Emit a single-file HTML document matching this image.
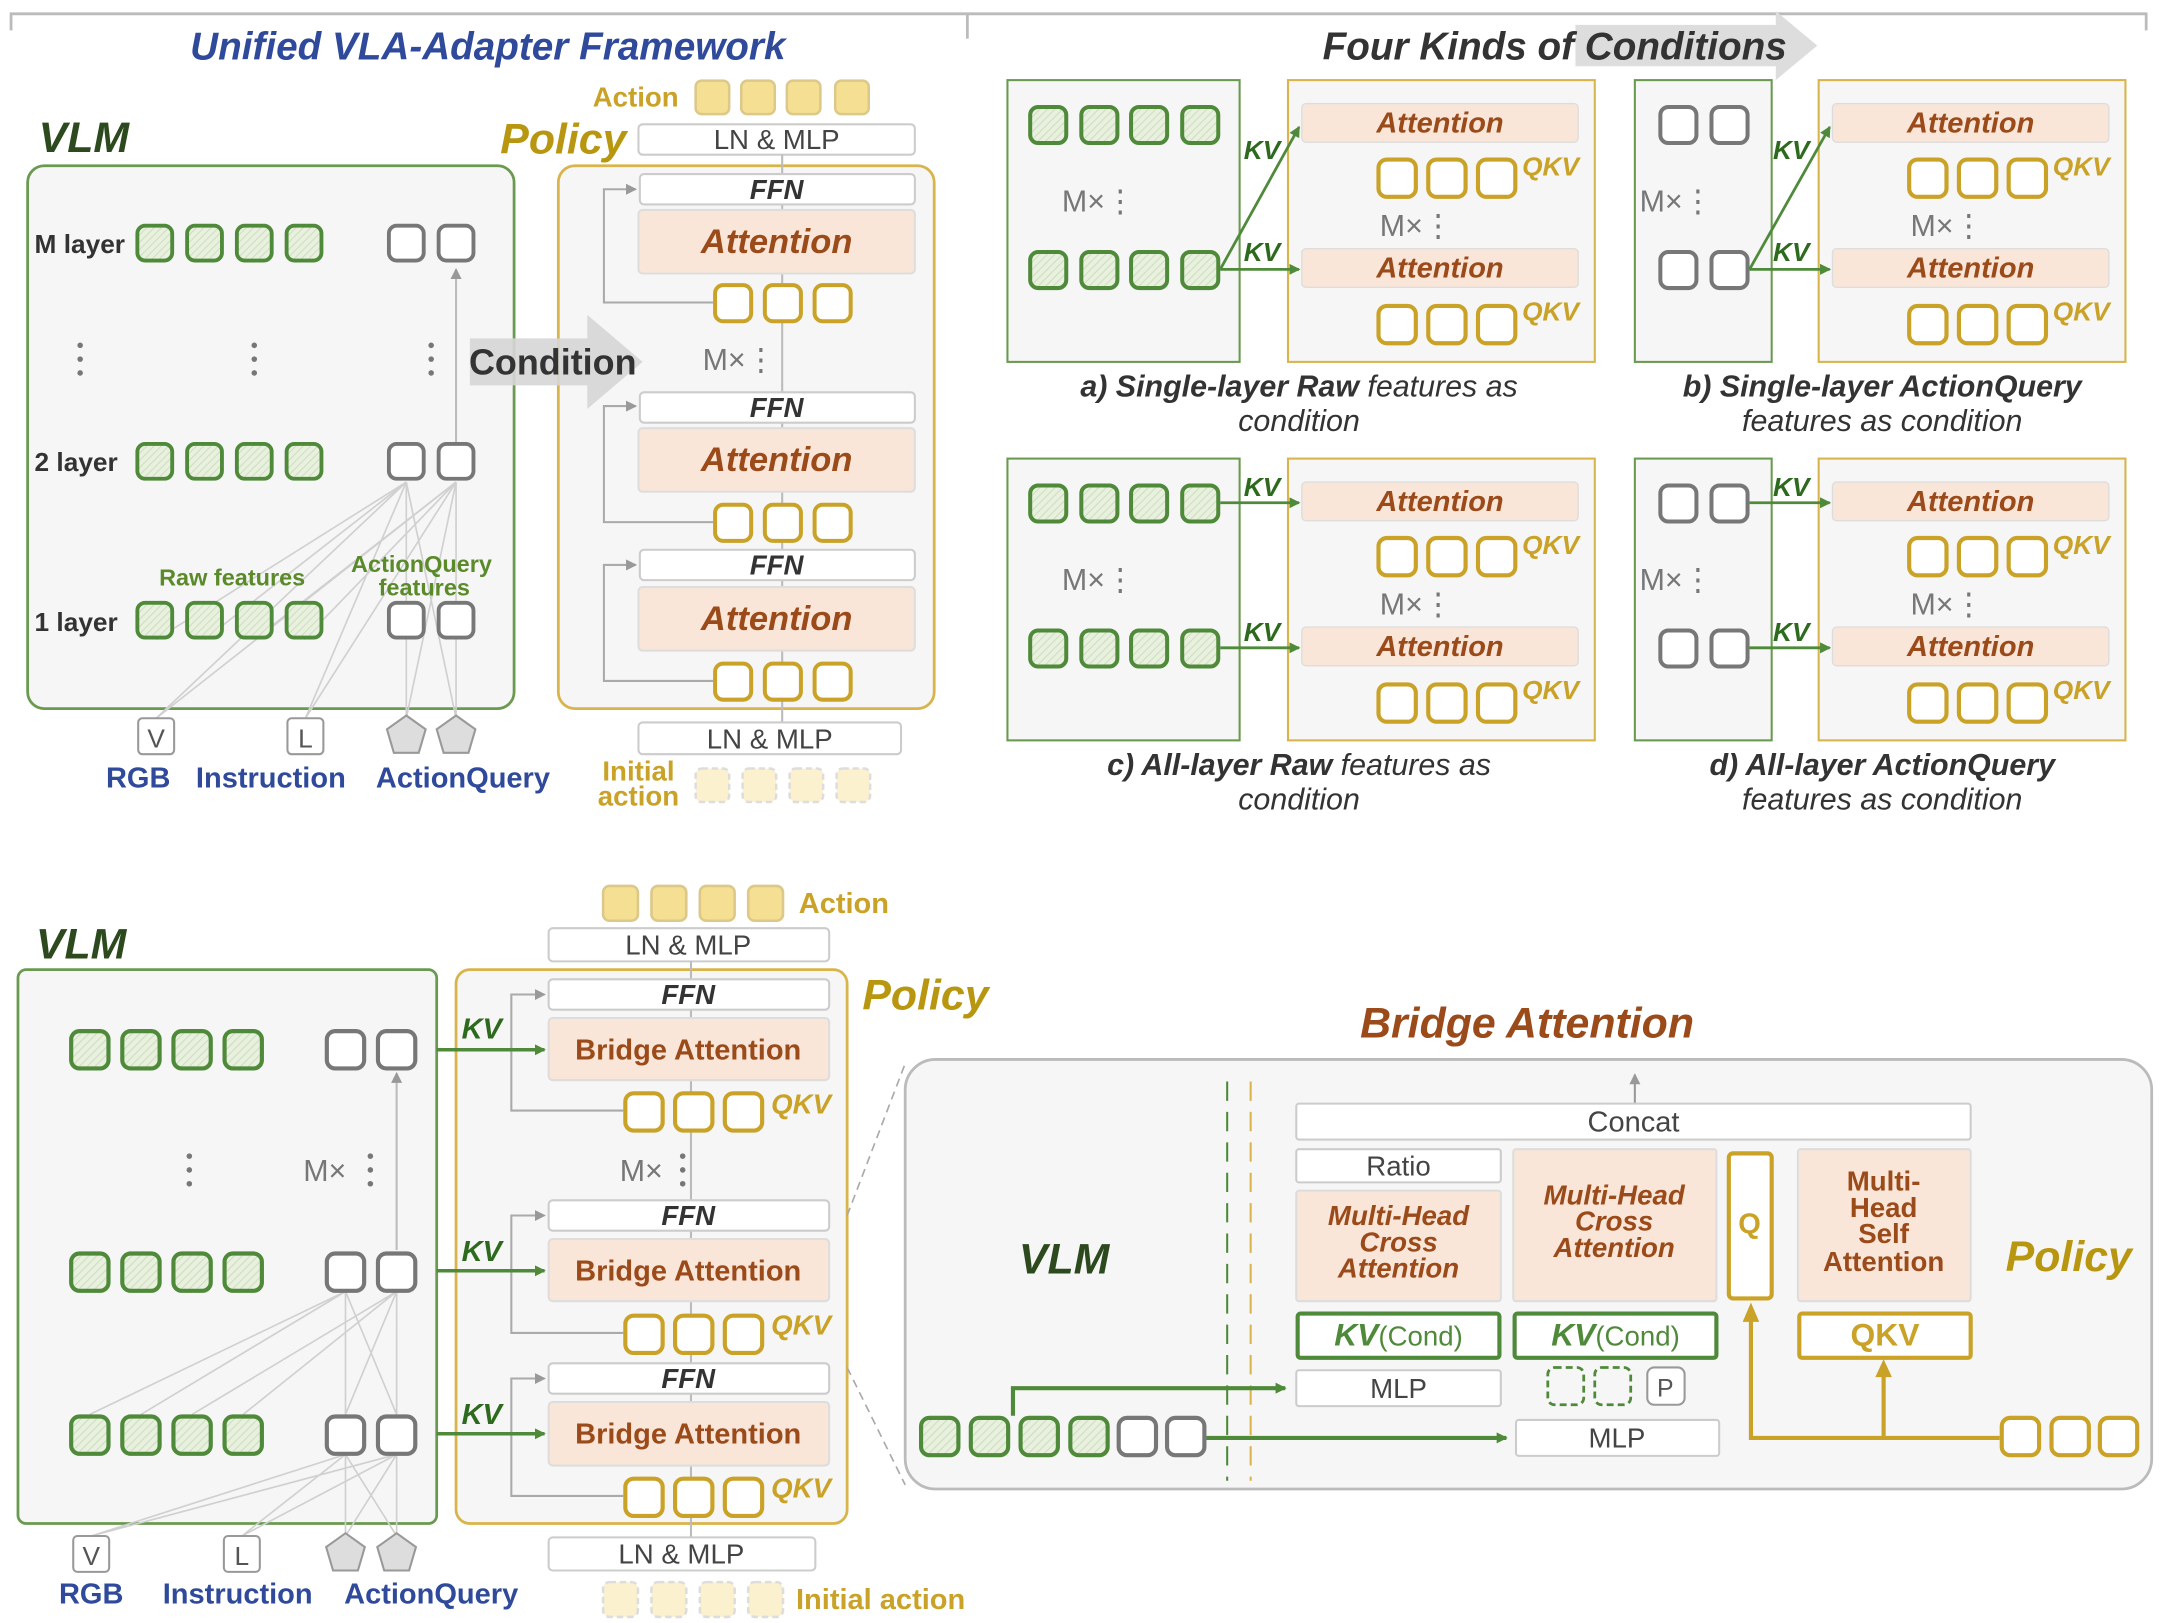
<!DOCTYPE html>
<html><head><meta charset="utf-8"><style>
html,body{margin:0;padding:0;background:#fff}
svg{display:block}
text{font-family:"Liberation Sans",sans-serif}
.t{font-weight:bold;font-style:italic}
</style></head><body>
<svg width="2160" height="1623" viewBox="0 0 1563 1175" preserveAspectRatio="none" xmlns="http://www.w3.org/2000/svg">
<defs>
<pattern id="h" width="4" height="4" patternUnits="userSpaceOnUse" patternTransform="rotate(45)"><rect width="4" height="4" fill="#e8f0de"/><line x1="0" y1="0" x2="0" y2="4" stroke="#cfdcc0" stroke-width="1.5"/></pattern>
<symbol id="g" viewBox="0 0 30 30" overflow="visible"><rect x="1.5" y="1.5" width="27" height="27" rx="6" fill="url(#h)" stroke="#4f8a3a" stroke-width="3"/></symbol>
<symbol id="w" viewBox="0 0 30 30" overflow="visible"><rect x="1.5" y="1.5" width="27" height="27" rx="6" fill="#fff" stroke="#777" stroke-width="3"/></symbol>
<symbol id="y" viewBox="0 0 30 30" overflow="visible"><rect x="1.5" y="1.5" width="27" height="27" rx="6" fill="#fff" stroke="#c9a227" stroke-width="3"/></symbol>
<symbol id="a" viewBox="0 0 30 30" overflow="visible"><rect x="1.5" y="1.5" width="27" height="27" rx="5" fill="#f4df92" stroke="#dcc989" stroke-width="2"/></symbol>
<symbol id="ad" viewBox="0 0 30 30" overflow="visible"><rect x="1.5" y="1.5" width="27" height="27" rx="5" fill="#fbf1cf" stroke="#ddd" stroke-width="2" stroke-dasharray="5,3"/></symbol>
<marker id="mg" markerWidth="8" markerHeight="8" refX="7" refY="4" orient="auto" markerUnits="userSpaceOnUse"><path d="M0,0L8,4L0,8z" fill="#4f8a3a"/></marker>
<marker id="mr" markerWidth="8" markerHeight="8" refX="7" refY="4" orient="auto" markerUnits="userSpaceOnUse"><path d="M0,0L8,4L0,8z" fill="#999"/></marker>
</defs>

<!-- top lines -->
<path d="M8,22V10H700V28M700,10H1553V22" fill="none" stroke="#bbb" stroke-width="2"/>
<text x="353" y="43" class="t" font-size="28" fill="#2f4a9a" text-anchor="middle">Unified VLA-Adapter Framework</text>
<path d="M1140,18H1285V8L1315,33L1285,58V48H1140z" fill="#ddd"/>
<text x="1125" y="43" class="t" font-size="28" fill="#333" text-anchor="middle">Four Kinds of Conditions</text>

<!-- ============ TOP LEFT ============ -->
<text x="28" y="110" class="t" font-size="31" fill="#2d4a1e">VLM</text>
<rect x="20" y="120" width="352" height="393" rx="12" fill="#f6f6f6" stroke="#6a9a50" stroke-width="2"/>
<g stroke="#d0d0d0" stroke-width="1.2">
<path d="M113,520L294,349M113,520L330,349M221,520L294,349M221,520L330,349M294,520L294,349M294,520L330,349M330,520L294,349M330,520L330,349"/>
<path d="M113,463L294,349M148,463L294,349M184,463L330,349M220,463L330,349"/>
</g>
<line x1="330" y1="320" x2="330" y2="195" stroke="#bbb" stroke-width="1.5" marker-end="url(#mr)"/>
<g font-size="19" fill="#333" font-weight="bold"><text x="25" y="183">M layer</text><text x="25" y="341">2 layer</text><text x="25" y="457">1 layer</text></g>
<use href="#g" x="98" y="162" width="28" height="28"/><use href="#g" x="134" y="162" width="28" height="28"/><use href="#g" x="170" y="162" width="28" height="28"/><use href="#g" x="206" y="162" width="28" height="28"/>
<use href="#w" x="280" y="162" width="28" height="28"/><use href="#w" x="316" y="162" width="28" height="28"/>
<use href="#g" x="98" y="320" width="28" height="28"/><use href="#g" x="134" y="320" width="28" height="28"/><use href="#g" x="170" y="320" width="28" height="28"/><use href="#g" x="206" y="320" width="28" height="28"/>
<use href="#w" x="280" y="320" width="28" height="28"/><use href="#w" x="316" y="320" width="28" height="28"/>
<use href="#g" x="98" y="435" width="28" height="28"/><use href="#g" x="134" y="435" width="28" height="28"/><use href="#g" x="170" y="435" width="28" height="28"/><use href="#g" x="206" y="435" width="28" height="28"/>
<use href="#w" x="280" y="435" width="28" height="28"/><use href="#w" x="316" y="435" width="28" height="28"/>
<g fill="#777"><circle cx="58" cy="250" r="2"/><circle cx="58" cy="260" r="2"/><circle cx="58" cy="270" r="2"/><circle cx="184" cy="250" r="2"/><circle cx="184" cy="260" r="2"/><circle cx="184" cy="270" r="2"/><circle cx="312" cy="250" r="2"/><circle cx="312" cy="260" r="2"/><circle cx="312" cy="270" r="2"/></g>
<g font-size="17" fill="#5a8a2a" font-weight="bold" text-anchor="middle"><text x="168" y="424">Raw features</text><text x="305" y="414">ActionQuery</text><text x="307" y="431">features</text></g>
<rect x="100" y="520" width="26" height="26" rx="3" fill="#fff" stroke="#999" stroke-width="1.5"/><text x="113" y="541" font-size="19" fill="#555" text-anchor="middle">V</text>
<rect x="208" y="520" width="26" height="26" rx="3" fill="#fff" stroke="#999" stroke-width="1.5"/><text x="221" y="541" font-size="19" fill="#555" text-anchor="middle">L</text>
<path d="M294,518L308,528L303,545H285L280,528z" fill="#ddd" stroke="#999" stroke-width="1.5"/>
<path d="M330,518L344,528L339,545H321L316,528z" fill="#ddd" stroke="#999" stroke-width="1.5"/>
<g font-size="21" fill="#2f4a9a" font-weight="bold" text-anchor="middle"><text x="100" y="570">RGB</text><text x="196" y="570">Instruction</text><text x="335" y="570">ActionQuery</text></g>

<!-- top policy -->
<text x="362" y="111" class="t" font-size="31" fill="#b8960f">Policy</text>
<text x="460" y="77" font-size="20" font-weight="bold" fill="#c9a227" text-anchor="middle">Action</text>
<use href="#a" x="502" y="57" width="27" height="27"/><use href="#a" x="535" y="57" width="27" height="27"/><use href="#a" x="568" y="57" width="27" height="27"/><use href="#a" x="603" y="57" width="27" height="27"/>
<rect x="462" y="90" width="200" height="22" rx="3" fill="#fff" stroke="#ccc" stroke-width="1.5"/><text x="562" y="108" font-size="20" fill="#444" text-anchor="middle">LN &amp; MLP</text>
<rect x="404" y="120" width="272" height="393" rx="12" fill="#f6f6f6" stroke="#d8b44a" stroke-width="2"/>
<line x1="566" y1="112" x2="566" y2="523" stroke="#bbb" stroke-width="1.5"/>
<g fill="none" stroke="#aaa" stroke-width="1.5"><path d="M516,219H437V137H460" marker-end="url(#mr)"/><path d="M516,378H437V294H460" marker-end="url(#mr)"/><path d="M516,493H437V409H460" marker-end="url(#mr)"/></g>
<g>
<rect x="463" y="126" width="199" height="22" rx="3" fill="#fff" stroke="#ccc" stroke-width="1.5"/><text x="562" y="144" class="t" font-size="20" fill="#333" text-anchor="middle">FFN</text>
<rect x="462" y="152" width="200" height="46" rx="3" fill="#f9e6d8" stroke="#ddd" stroke-width="1.5"/><text x="562" y="183" class="t" font-size="25" fill="#9b4a1a" text-anchor="middle">Attention</text>
<use href="#y" x="516" y="205" width="29" height="29"/><use href="#y" x="552" y="205" width="29" height="29"/><use href="#y" x="588" y="205" width="29" height="29"/>
<rect x="463" y="284" width="199" height="22" rx="3" fill="#fff" stroke="#ccc" stroke-width="1.5"/><text x="562" y="302" class="t" font-size="20" fill="#333" text-anchor="middle">FFN</text>
<rect x="462" y="310" width="200" height="46" rx="3" fill="#f9e6d8" stroke="#ddd" stroke-width="1.5"/><text x="562" y="341" class="t" font-size="25" fill="#9b4a1a" text-anchor="middle">Attention</text>
<use href="#y" x="516" y="364" width="29" height="29"/><use href="#y" x="552" y="364" width="29" height="29"/><use href="#y" x="588" y="364" width="29" height="29"/>
<rect x="463" y="398" width="199" height="22" rx="3" fill="#fff" stroke="#ccc" stroke-width="1.5"/><text x="562" y="416" class="t" font-size="20" fill="#333" text-anchor="middle">FFN</text>
<rect x="462" y="425" width="200" height="46" rx="3" fill="#f9e6d8" stroke="#ddd" stroke-width="1.5"/><text x="562" y="456" class="t" font-size="25" fill="#9b4a1a" text-anchor="middle">Attention</text>
<use href="#y" x="516" y="479" width="29" height="29"/><use href="#y" x="552" y="479" width="29" height="29"/><use href="#y" x="588" y="479" width="29" height="29"/>
</g>
<text x="535" y="268" font-size="22" fill="#777" text-anchor="middle">M×⋮</text>
<rect x="462" y="523" width="190" height="23" rx="3" fill="#fff" stroke="#ccc" stroke-width="1.5"/><text x="557" y="542" font-size="20" fill="#444" text-anchor="middle">LN &amp; MLP</text>
<g font-size="20" font-weight="bold" fill="#c9a227" text-anchor="middle"><text x="462" y="565">Initial</text><text x="462" y="583">action</text></g>
<use href="#ad" x="502" y="555" width="27" height="27"/><use href="#ad" x="536" y="555" width="27" height="27"/><use href="#ad" x="570" y="555" width="27" height="27"/><use href="#ad" x="604" y="555" width="27" height="27"/>

<!-- condition arrow on top -->
<path d="M340,245H425V228L465,262L425,296V279H340z" fill="#d6d6d6" fill-opacity="0.9"/>
<text x="400" y="271" font-size="26" font-weight="bold" fill="#333" text-anchor="middle">Condition</text>

<!-- ============ FOUR PANELS ============ -->
<g id="pa">
<rect x="932" y="58" width="222" height="204" fill="#f6f6f6" stroke="#d8b44a" stroke-width="1.5"/>
<rect x="942" y="75" width="200" height="28" rx="3" fill="#f9e6d8" stroke="#ddd"/><text x="1042" y="96" class="t" font-size="21" fill="#9b4a1a" text-anchor="middle">Attention</text>
<use href="#y" x="996" y="114" width="30" height="30"/><use href="#y" x="1032" y="114" width="30" height="30"/><use href="#y" x="1068" y="114" width="30" height="30"/>
<text x="1122" y="127" class="t" font-size="19" fill="#c9a227" text-anchor="middle">QKV</text>
<text x="1025" y="171" font-size="22" fill="#777" text-anchor="middle">M×⋮</text>
<rect x="942" y="180" width="200" height="28" rx="3" fill="#f9e6d8" stroke="#ddd"/><text x="1042" y="201" class="t" font-size="21" fill="#9b4a1a" text-anchor="middle">Attention</text>
<use href="#y" x="996" y="220" width="30" height="30"/><use href="#y" x="1032" y="220" width="30" height="30"/><use href="#y" x="1068" y="220" width="30" height="30"/>
<text x="1122" y="232" class="t" font-size="19" fill="#c9a227" text-anchor="middle">QKV</text>
</g>
<rect x="729" y="58" width="168" height="204" fill="#f6f6f6" stroke="#6a9a50" stroke-width="1.5"/>
<use href="#g" x="744" y="76" width="29" height="29"/><use href="#g" x="781" y="76" width="29" height="29"/><use href="#g" x="817" y="76" width="29" height="29"/><use href="#g" x="854" y="76" width="29" height="29"/>
<use href="#g" x="744" y="181" width="29" height="29"/><use href="#g" x="781" y="181" width="29" height="29"/><use href="#g" x="817" y="181" width="29" height="29"/><use href="#g" x="854" y="181" width="29" height="29"/>
<text x="795" y="153" font-size="22" fill="#777" text-anchor="middle">M×⋮</text>
<g stroke="#4f8a3a" stroke-width="2" fill="none"><path d="M883,195L940,92" marker-end="url(#mg)"/><path d="M883,195H940" marker-end="url(#mg)"/></g>
<g class="t" font-size="19" fill="#2d6a1e"><text x="900" y="115">KV</text><text x="900" y="189">KV</text></g>
<g class="t" font-size="22" fill="#333" text-anchor="middle"><text x="940" y="287">a) Single-layer Raw <tspan font-weight="normal">features as</tspan></text><text x="940" y="312" font-weight="normal">condition</text></g>

<use href="#pa" transform="translate(384,0)"/>
<rect x="1183" y="58" width="99" height="204" fill="#f6f6f6" stroke="#6a9a50" stroke-width="1.5"/>
<use href="#w" x="1200" y="76" width="29" height="29"/><use href="#w" x="1237" y="76" width="29" height="29"/>
<use href="#w" x="1200" y="181" width="29" height="29"/><use href="#w" x="1237" y="181" width="29" height="29"/>
<text x="1213" y="153" font-size="22" fill="#777" text-anchor="middle">M×⋮</text>
<g stroke="#4f8a3a" stroke-width="2" fill="none"><path d="M1266,195L1324,92" marker-end="url(#mg)"/><path d="M1266,195H1324" marker-end="url(#mg)"/></g>
<g class="t" font-size="19" fill="#2d6a1e"><text x="1283" y="115">KV</text><text x="1283" y="189">KV</text></g>
<g class="t" font-size="22" fill="#333" text-anchor="middle"><text x="1362" y="287">b) Single-layer ActionQuery</text><text x="1362" y="312" font-weight="normal">features as condition</text></g>

<use href="#pa" transform="translate(0,274)"/>
<rect x="729" y="332" width="168" height="204" fill="#f6f6f6" stroke="#6a9a50" stroke-width="1.5"/>
<use href="#g" x="744" y="350" width="29" height="29"/><use href="#g" x="781" y="350" width="29" height="29"/><use href="#g" x="817" y="350" width="29" height="29"/><use href="#g" x="854" y="350" width="29" height="29"/>
<use href="#g" x="744" y="455" width="29" height="29"/><use href="#g" x="781" y="455" width="29" height="29"/><use href="#g" x="817" y="455" width="29" height="29"/><use href="#g" x="854" y="455" width="29" height="29"/>
<text x="795" y="427" font-size="22" fill="#777" text-anchor="middle">M×⋮</text>
<g stroke="#4f8a3a" stroke-width="2" fill="none"><path d="M883,364H940" marker-end="url(#mg)"/><path d="M883,469H940" marker-end="url(#mg)"/></g>
<g class="t" font-size="19" fill="#2d6a1e"><text x="900" y="359">KV</text><text x="900" y="464">KV</text></g>
<g class="t" font-size="22" fill="#333" text-anchor="middle"><text x="940" y="561">c) All-layer Raw <tspan font-weight="normal">features as</tspan></text><text x="940" y="586" font-weight="normal">condition</text></g>

<use href="#pa" transform="translate(384,274)"/>
<rect x="1183" y="332" width="99" height="204" fill="#f6f6f6" stroke="#6a9a50" stroke-width="1.5"/>
<use href="#w" x="1200" y="350" width="29" height="29"/><use href="#w" x="1237" y="350" width="29" height="29"/>
<use href="#w" x="1200" y="455" width="29" height="29"/><use href="#w" x="1237" y="455" width="29" height="29"/>
<text x="1213" y="427" font-size="22" fill="#777" text-anchor="middle">M×⋮</text>
<g stroke="#4f8a3a" stroke-width="2" fill="none"><path d="M1266,364H1324" marker-end="url(#mg)"/><path d="M1266,469H1324" marker-end="url(#mg)"/></g>
<g class="t" font-size="19" fill="#2d6a1e"><text x="1283" y="359">KV</text><text x="1283" y="464">KV</text></g>
<g class="t" font-size="22" fill="#333" text-anchor="middle"><text x="1362" y="561">d) All-layer ActionQuery</text><text x="1362" y="586" font-weight="normal">features as condition</text></g>

<!-- ============ BOTTOM LEFT ============ -->
<text x="26" y="694" class="t" font-size="31" fill="#2d4a1e">VLM</text>
<use href="#a" x="435" y="640" width="28" height="28"/><use href="#a" x="470" y="640" width="28" height="28"/><use href="#a" x="505" y="640" width="28" height="28"/><use href="#a" x="540" y="640" width="28" height="28"/>
<text x="578" y="661" font-size="21" font-weight="bold" fill="#c9a227">Action</text>
<rect x="397" y="672" width="203" height="24" rx="3" fill="#fff" stroke="#ccc" stroke-width="1.5"/><text x="498" y="691" font-size="20" fill="#444" text-anchor="middle">LN &amp; MLP</text>
<rect x="13" y="702" width="303" height="401" rx="6" fill="#f6f6f6" stroke="#6a9a50" stroke-width="2"/>
<g stroke="#d0d0d0" stroke-width="1.2">
<path d="M66,1112L250,1053M66,1112L287,1053M175,1112L250,1053M175,1112L287,1053M250,1112L250,1053M250,1112L287,1053M287,1112L250,1053M287,1112L287,1053"/>
<path d="M65,1024L250,935M102,1024L250,935M139,1024L287,935M176,1024L287,935M250,1024L250,935M250,1024L287,935M287,1024L250,935M287,1024L287,935"/>
</g>
<line x1="287" y1="905" x2="287" y2="777" stroke="#bbb" stroke-width="1.5" marker-end="url(#mr)"/>
<g>
<use href="#g" x="50" y="745" width="30" height="30"/><use href="#g" x="87" y="745" width="30" height="30"/><use href="#g" x="124" y="745" width="30" height="30"/><use href="#g" x="161" y="745" width="30" height="30"/>
<use href="#w" x="235" y="745" width="30" height="30"/><use href="#w" x="272" y="745" width="30" height="30"/>
<use href="#g" x="50" y="906" width="30" height="30"/><use href="#g" x="87" y="906" width="30" height="30"/><use href="#g" x="124" y="906" width="30" height="30"/><use href="#g" x="161" y="906" width="30" height="30"/>
<use href="#w" x="235" y="906" width="30" height="30"/><use href="#w" x="272" y="906" width="30" height="30"/>
<use href="#g" x="50" y="1024" width="30" height="30"/><use href="#g" x="87" y="1024" width="30" height="30"/><use href="#g" x="124" y="1024" width="30" height="30"/><use href="#g" x="161" y="1024" width="30" height="30"/>
<use href="#w" x="235" y="1024" width="30" height="30"/><use href="#w" x="272" y="1024" width="30" height="30"/>
</g>
<g fill="#777"><circle cx="137" cy="837" r="2"/><circle cx="137" cy="847" r="2"/><circle cx="137" cy="857" r="2"/><circle cx="268" cy="837" r="2"/><circle cx="268" cy="847" r="2"/><circle cx="268" cy="857" r="2"/></g>
<text x="235" y="855" font-size="22" fill="#777" text-anchor="middle">M×</text>
<rect x="53" y="1112" width="26" height="26" rx="3" fill="#fff" stroke="#999" stroke-width="1.5"/><text x="66" y="1133" font-size="19" fill="#555" text-anchor="middle">V</text>
<rect x="162" y="1112" width="26" height="26" rx="3" fill="#fff" stroke="#999" stroke-width="1.5"/><text x="175" y="1133" font-size="19" fill="#555" text-anchor="middle">L</text>
<path d="M250,1110L264,1120L259,1137H241L236,1120z" fill="#ddd" stroke="#999" stroke-width="1.5"/>
<path d="M287,1110L301,1120L296,1137H278L273,1120z" fill="#ddd" stroke="#999" stroke-width="1.5"/>
<g font-size="21" fill="#2f4a9a" font-weight="bold" text-anchor="middle"><text x="66" y="1161">RGB</text><text x="172" y="1161">Instruction</text><text x="312" y="1161">ActionQuery</text></g>

<rect x="330" y="702" width="283" height="401" rx="10" fill="#f6f6f6" stroke="#d8b44a" stroke-width="2"/>
<text x="624" y="731" class="t" font-size="31" fill="#b8960f">Policy</text>
<line x1="500" y1="696" x2="500" y2="1113" stroke="#bbb" stroke-width="1.5"/>
<g fill="none" stroke="#aaa" stroke-width="1.5"><path d="M451,804H370V720H394" marker-end="url(#mr)"/><path d="M451,965H370V880H394" marker-end="url(#mr)"/><path d="M451,1083H370V998H394" marker-end="url(#mr)"/></g>
<g>
<rect x="397" y="709" width="203" height="22" rx="3" fill="#fff" stroke="#ccc" stroke-width="1.5"/><text x="498" y="727" class="t" font-size="20" fill="#333" text-anchor="middle">FFN</text>
<rect x="397" y="737" width="203" height="45" rx="3" fill="#f9e6d8" stroke="#ddd" stroke-width="1.5"/><text x="498" y="767" font-size="21" font-weight="bold" fill="#9b4a1a" text-anchor="middle">Bridge Attention</text>
<use href="#y" x="451" y="790" width="30" height="30"/><use href="#y" x="487" y="790" width="30" height="30"/><use href="#y" x="523" y="790" width="30" height="30"/>
<text x="558" y="806" class="t" font-size="20" fill="#c9a227">QKV</text>
<rect x="397" y="869" width="203" height="22" rx="3" fill="#fff" stroke="#ccc" stroke-width="1.5"/><text x="498" y="887" class="t" font-size="20" fill="#333" text-anchor="middle">FFN</text>
<rect x="397" y="897" width="203" height="45" rx="3" fill="#f9e6d8" stroke="#ddd" stroke-width="1.5"/><text x="498" y="927" font-size="21" font-weight="bold" fill="#9b4a1a" text-anchor="middle">Bridge Attention</text>
<use href="#y" x="451" y="951" width="30" height="30"/><use href="#y" x="487" y="951" width="30" height="30"/><use href="#y" x="523" y="951" width="30" height="30"/>
<text x="558" y="966" class="t" font-size="20" fill="#c9a227">QKV</text>
<rect x="397" y="987" width="203" height="22" rx="3" fill="#fff" stroke="#ccc" stroke-width="1.5"/><text x="498" y="1005" class="t" font-size="20" fill="#333" text-anchor="middle">FFN</text>
<rect x="397" y="1015" width="203" height="46" rx="3" fill="#f9e6d8" stroke="#ddd" stroke-width="1.5"/><text x="498" y="1045" font-size="21" font-weight="bold" fill="#9b4a1a" text-anchor="middle">Bridge Attention</text>
<use href="#y" x="451" y="1069" width="30" height="30"/><use href="#y" x="487" y="1069" width="30" height="30"/><use href="#y" x="523" y="1069" width="30" height="30"/>
<text x="558" y="1084" class="t" font-size="20" fill="#c9a227">QKV</text>
</g>
<text x="464" y="855" font-size="22" fill="#777" text-anchor="middle">M×</text>
<g fill="#777"><circle cx="494" cy="837" r="2"/><circle cx="494" cy="847" r="2"/><circle cx="494" cy="857" r="2"/></g>
<g stroke="#4f8a3a" stroke-width="2.5" fill="none"><path d="M316,760H394" marker-end="url(#mg)"/><path d="M316,920H394" marker-end="url(#mg)"/><path d="M316,1038H394" marker-end="url(#mg)"/></g>
<g class="t" font-size="21" fill="#2d6a1e"><text x="334" y="752">KV</text><text x="334" y="913">KV</text><text x="334" y="1031">KV</text></g>
<rect x="397" y="1113" width="193" height="24" rx="3" fill="#fff" stroke="#ccc" stroke-width="1.5"/><text x="493" y="1132" font-size="20" fill="#444" text-anchor="middle">LN &amp; MLP</text>
<use href="#ad" x="435" y="1144" width="28" height="28"/><use href="#ad" x="470" y="1144" width="28" height="28"/><use href="#ad" x="505" y="1144" width="28" height="28"/><use href="#ad" x="540" y="1144" width="28" height="28"/>
<text x="576" y="1165" font-size="21" font-weight="bold" fill="#c9a227">Initial action</text>
<g stroke="#aaa" stroke-width="1.2" stroke-dasharray="6,4"><line x1="613" y1="880" x2="655" y2="770"/><line x1="613" y1="990" x2="655" y2="1075"/></g>

<!-- ============ BRIDGE ATTENTION ============ -->
<text x="1105" y="751" class="t" font-size="31" fill="#9b4a1a" text-anchor="middle">Bridge Attention</text>
<rect x="655" y="767" width="902" height="311" rx="22" fill="#f6f6f6" stroke="#bbb" stroke-width="2"/>
<text x="770" y="922" class="t" font-size="31" fill="#2d4a1e" text-anchor="middle">VLM</text>
<text x="1497" y="920" class="t" font-size="31" fill="#b8960f" text-anchor="middle">Policy</text>
<line x1="888" y1="783" x2="888" y2="1072" stroke="#4f8a3a" stroke-width="1.5" stroke-dasharray="14,8"/>
<line x1="905" y1="783" x2="905" y2="1072" stroke="#d8b44a" stroke-width="1.5" stroke-dasharray="14,8"/>
<line x1="1183" y1="799" x2="1183" y2="778" stroke="#999" stroke-width="1.5" marker-end="url(#mr)"/>
<rect x="938" y="799" width="488" height="26" rx="2" fill="#fff" stroke="#ccc" stroke-width="1.5"/><text x="1182" y="819" font-size="21" fill="#444" text-anchor="middle">Concat</text>
<rect x="938" y="832" width="148" height="24" rx="2" fill="#fff" stroke="#ccc" stroke-width="1.5"/><text x="1012" y="851" font-size="20" fill="#444" text-anchor="middle">Ratio</text>
<rect x="938" y="862" width="148" height="80" rx="2" fill="#f9e6d8" stroke="#ddd" stroke-width="1.5"/>
<g class="t" font-size="20" fill="#9b4a1a" text-anchor="middle"><text x="1012" y="887">Multi-Head</text><text x="1012" y="906">Cross</text><text x="1012" y="925">Attention</text></g>
<rect x="1095" y="832" width="147" height="110" rx="2" fill="#f9e6d8" stroke="#ddd" stroke-width="1.5"/>
<g class="t" font-size="20" fill="#9b4a1a" text-anchor="middle"><text x="1168" y="872">Multi-Head</text><text x="1168" y="891">Cross</text><text x="1168" y="910">Attention</text></g>
<rect x="1251" y="835" width="31" height="105" rx="3" fill="#fff" stroke="#c9a227" stroke-width="3"/><text x="1266" y="893" font-size="21" font-weight="bold" fill="#c9a227" text-anchor="middle">Q</text>
<rect x="1301" y="832" width="125" height="110" rx="2" fill="#f9e6d8" stroke="#ddd" stroke-width="1.5"/>
<g font-size="20" font-weight="bold" fill="#9b4a1a" text-anchor="middle"><text x="1363" y="862">Multi-</text><text x="1363" y="881">Head</text><text x="1363" y="900">Self</text><text x="1363" y="920">Attention</text></g>
<rect x="939" y="951" width="146" height="32" rx="2" fill="#fff" stroke="#4f8a3a" stroke-width="3"/>
<text x="1012" y="974" text-anchor="middle" fill="#4f8a3a"><tspan class="t" font-size="23">KV</tspan><tspan font-size="20">(Cond)</tspan></text>
<rect x="1096" y="951" width="146" height="32" rx="2" fill="#fff" stroke="#4f8a3a" stroke-width="3"/>
<text x="1169" y="974" text-anchor="middle" fill="#4f8a3a"><tspan class="t" font-size="23">KV</tspan><tspan font-size="20">(Cond)</tspan></text>
<rect x="1302" y="951" width="124" height="32" rx="2" fill="#fff" stroke="#c9a227" stroke-width="3"/><text x="1364" y="974" font-size="23" font-weight="bold" fill="#c9a227" text-anchor="middle">QKV</text>
<rect x="938" y="992" width="148" height="26" rx="2" fill="#fff" stroke="#ccc" stroke-width="1.5"/><text x="1012" y="1012" font-size="20" fill="#444" text-anchor="middle">MLP</text>
<rect x="1120" y="990" width="26" height="27" rx="5" fill="none" stroke="#4f8a3a" stroke-width="2" stroke-dasharray="5,3"/>
<rect x="1154" y="990" width="26" height="27" rx="5" fill="none" stroke="#4f8a3a" stroke-width="2" stroke-dasharray="5,3"/>
<rect x="1192" y="990" width="27" height="27" rx="5" fill="#fff" stroke="#999" stroke-width="1.5"/><text x="1205" y="1011" font-size="18" fill="#555" text-anchor="middle">P</text>
<rect x="1097" y="1028" width="147" height="26" rx="2" fill="#fff" stroke="#ccc" stroke-width="1.5"/><text x="1170" y="1048" font-size="20" fill="#444" text-anchor="middle">MLP</text>
<g stroke="#4f8a3a" stroke-width="3" fill="none"><path d="M733,1025V1005H930" marker-end="url(#mg)"/><path d="M873,1041H1090" marker-end="url(#mg)"/></g>
<use href="#g" x="665" y="1025" width="30" height="30"/><use href="#g" x="701" y="1025" width="30" height="30"/><use href="#g" x="737" y="1025" width="30" height="30"/><use href="#g" x="773" y="1025" width="30" height="30"/>
<use href="#w" x="808" y="1025" width="30" height="30"/><use href="#w" x="843" y="1025" width="30" height="30"/>
<g stroke="#c9a227" stroke-width="3" fill="none"><path d="M1447,1041H1267V955"/><path d="M1363,1041V995"/></g>
<path d="M1261,957L1267,943L1273,957z" fill="#c9a227"/><path d="M1357,997L1363,984L1369,997z" fill="#c9a227"/>
<use href="#y" x="1447" y="1025" width="30" height="30"/><use href="#y" x="1483" y="1025" width="30" height="30"/><use href="#y" x="1518" y="1025" width="30" height="30"/>
</svg>
</body></html>
